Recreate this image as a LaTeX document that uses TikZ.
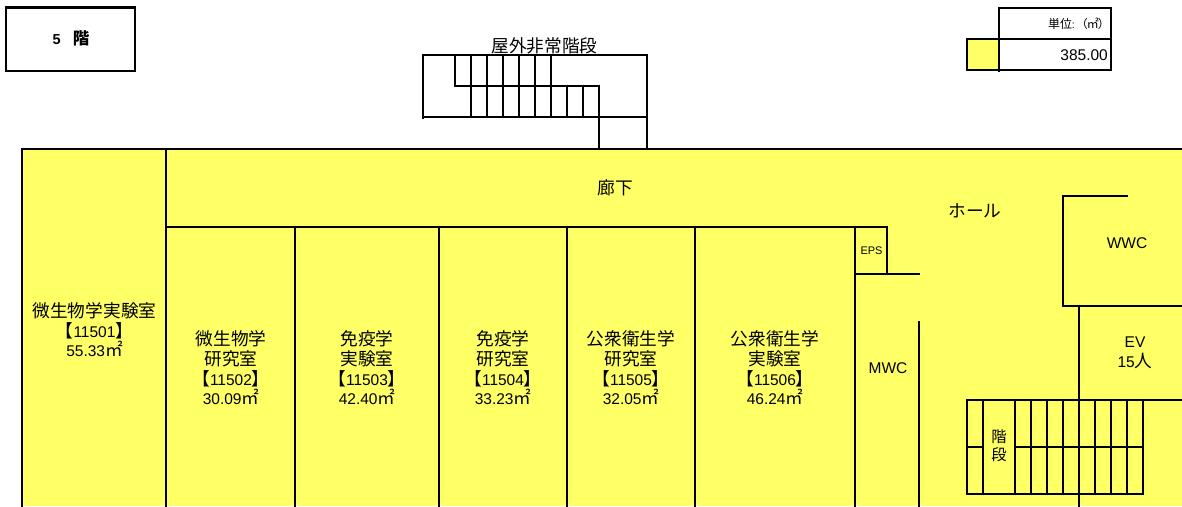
\documentclass[tikz,border=0pt]{standalone}
\usepackage{fontspec}
\setmainfont{Liberation Sans}
\newfontfamily\cjk[Scale=1.14]{Noto Sans CJK JP}
\definecolor{roomyellow}{HTML}{FFFF66}
\tikzset{
  wall/.style={line width=2.2pt,black,line cap=rect},
  label/.style={align=center,inner sep=0pt,font=\fontsize{15.5}{19.6}\selectfont,text=black},
  small/.style={align=center,inner sep=0pt,font=\fontsize{11}{13}\selectfont,text=black}
}
\newcommand{\J}[1]{{\cjk #1}}
\begin{document}
\begin{tikzpicture}[x=1pt,y=-1pt]
\useasboundingbox (0,0) rectangle (1182,506);
\fill[white] (0,0) rectangle (1182,506);
% floor
\fill[roomyellow] (22,149) rectangle (1182,506);
\fill[roomyellow] (967,39) rectangle (999,70);
% title box
\draw[line width=2.6pt] (6,7.5) rectangle (135,71);
\node[inner sep=0pt,font=\fontsize{14.5}{16}\selectfont\bfseries] (floor) at (71,38) {5\hspace{12pt}\J{\bfseries 階}};
% legend
\draw[wall] (999,8) rectangle (1111,70);
\draw[wall] (967,39) -- (1111,39);
\draw[wall] (967,39) rectangle (999,70);
\draw[wall] (999,70) -- (999,71);
\node[small,anchor=east,font=\fontsize{10.5}{13}\selectfont] (unit) at (1110,23.5) {\J{単位}:\hspace{1pt}\J{（}\hspace{-1pt}\J{㎡}\hspace{-1pt}\J{）}};
\node[label,anchor=east] (total) at (1108,55) {385.00};
% outdoor stairs
\node[label] (ext) at (544.5,46) {\J{屋外非常階段}};
\draw[wall] (423,118) -- (423,55) -- (647,55) -- (647,149);
\draw[wall] (423,117) -- (647,117);
\draw[wall] (455,55) -- (455,86) -- (599,86) -- (599,149);
\foreach \x in {471,487,...,551} \draw[wall] (\x,55) -- (\x,86);
\foreach \x in {471,487,...,583} \draw[wall] (\x,86) -- (\x,117);
% outer walls
\draw[wall] (22,506) -- (22,149) -- (1182,149);
\draw[wall] (166,149) -- (166,506);
\draw[wall] (166,227) -- (887,227) -- (887,274);
\foreach \x in {295,439,567,695,855} \draw[wall] (\x,227) -- (\x,506);
\draw[wall] (855,274) -- (919,274);
\draw[wall] (919,322) -- (919,506);
% WWC / EV
\draw[wall] (1127,196) -- (1063,196) -- (1063,306) -- (1182,306);
\draw[wall] (1079,306) -- (1079,506);
% indoor stairs
\draw[wall] (1182,400) -- (967,400) -- (967,494) -- (1143,494) -- (1143,400);
\draw[wall] (967,447) -- (983,447);
\draw[wall] (1015,447) -- (1143,447);
\foreach \x in {983,1015,1031,1047,1063,1095,1111,1127} \draw[wall] (\x,400) -- (\x,494);
% labels
\node[label] (hall) at (615,188) {\J{廊下}};
\node[label] (lobby) at (975,211) {\J{ホール}};
\node[label] (wwc) at (1127,243) {WWC};
\node[label] (mwc) at (888,368) {MWC};
\node[small] (eps) at (871.5,251) {EPS};
\node[label] (ev) at (1135,352.5) {EV\\15\J{人}};
\node[small,font=\fontsize{13.5}{18}\selectfont] (stair) at (999,446) {\J{階}\\\J{段}};
\node[label] (r1) at (94.5,330) {\J{微生物学実験室}\\\J{【}11501\J{】}\\55.33\J{㎡}};
\node[label] (r2) at (231,368) {\J{微生物学}\\\J{研究室}\\\J{【}11502\J{】}\\30.09\J{㎡}};
\node[label] (r3) at (367,368) {\J{免疫学}\\\J{実験室}\\\J{【}11503\J{】}\\42.40\J{㎡}};
\node[label] (r4) at (503,368) {\J{免疫学}\\\J{研究室}\\\J{【}11504\J{】}\\33.23\J{㎡}};
\node[label] (r5) at (631,368) {\J{公衆衛生学}\\\J{研究室}\\\J{【}11505\J{】}\\32.05\J{㎡}};
\node[label] (r6) at (775,368) {\J{公衆衛生学}\\\J{実験室}\\\J{【}11506\J{】}\\46.24\J{㎡}};
\end{tikzpicture}
\end{document}
